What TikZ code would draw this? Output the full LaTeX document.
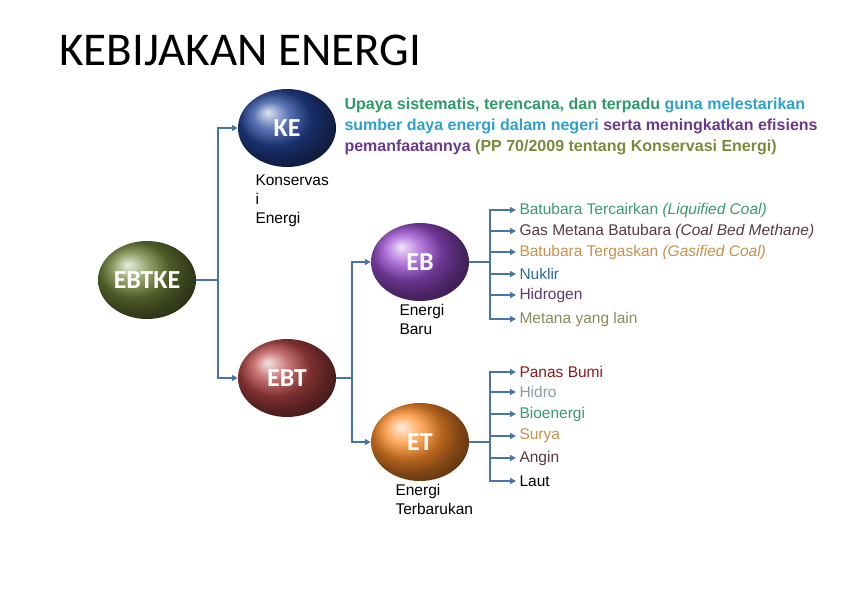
\documentclass[tikz,border=0pt]{standalone}
\usepackage{fontspec}
\setmainfont{Liberation Sans}
\newfontfamily\titlefont{Carlito}
\usetikzlibrary{shapes.geometric,arrows.meta}
\definecolor{linkblue}{HTML}{4A74A4}
\definecolor{txgreen}{HTML}{2E9A66}
\definecolor{txcyan}{HTML}{2EA0CC}
\definecolor{txpurple}{HTML}{6A3A8A}
\definecolor{txolive}{HTML}{7A8A3A}
\definecolor{itgreen}{HTML}{3A9A6A}
\definecolor{itbrown}{HTML}{5A3A3A}
\definecolor{ittan}{HTML}{C8904A}
\definecolor{itblue}{HTML}{2A6A9A}
\definecolor{itpurple}{HTML}{5A3A6A}
\definecolor{itolive}{HTML}{8A8A5A}
\definecolor{itred}{HTML}{8A1A1A}
\definecolor{itgray}{HTML}{8A9AAA}
\definecolor{ballolive}{HTML}{6E8238}
\definecolor{ballnavy}{HTML}{24459A}
\definecolor{ballred}{HTML}{B44444}
\definecolor{ballviolet}{HTML}{9A4CD0}
\definecolor{ballorange}{HTML}{FF8C28}
\tikzset{
  ball/.style={ellipse, minimum width=98pt, minimum height=78pt, inner sep=0pt,
    text=white, font=\titlefont\bfseries\fontsize{26}{28}\selectfont,
    shading=ball, ball color=#1},
  link/.style={draw=linkblue, line width=1.4pt, -{Triangle[length=6pt,width=6pt]}},
  item/.style={anchor=west, font=\fontsize{15.5}{18}\selectfont},
  sub/.style={anchor=north west, align=left, font=\fontsize{15.5}{19}\selectfont}
}
\begin{document}
\begin{tikzpicture}[x=1pt,y=-1pt]
\useasboundingbox (0,0) rectangle (841,595);

% Judul
\node[anchor=west, font=\titlefont\fontsize{47}{50}\selectfont] (judul) at (56,50) {KEBIJAKAN ENERGI};

% Bola
\node[ball=ballolive] (ebtke) at (147,280) {EBTKE};
\node[ball=ballnavy] (ke) at (287,128) {KE};
\node[ball=ballred] (ebt) at (287,378) {EBT};
\node[ball=ballviolet] (eb) at (420,262) {EB};
\node[ball=ballorange] (et) at (420,442) {ET};

% Keterangan
\node[sub] (lke) at (252,171) {Konservas\\i\\Energi};
\node[sub] (leb) at (396,301) {Energi\\Baru};
\node[sub] (let) at (392,481) {Energi\\Terbarukan};
\node[anchor=north west, align=left, font=\bfseries\fontsize{16}{21}\selectfont] (def) at (341,94)
  {\textcolor{txgreen}{Upaya sistematis, terencana, dan terpadu} \textcolor{txcyan}{guna melestarikan}\\
   \textcolor{txcyan}{sumber daya energi dalam negeri} \textcolor{txpurple}{serta meningkatkan efisiens}\\
   \textcolor{txpurple}{pemanfaatannya} \textcolor{txolive}{(PP 70/2009 tentang Konservasi Energi)}};

% Cabang
\draw[link] (ebtke.east) -- (218,280) |- (ke.west);
\draw[link] (ebtke.east) -- (218,280) |- (ebt.west);
\draw[link] (ebt.east) -- (352,378) |- (eb.west);
\draw[link] (ebt.east) -- (352,378) |- (et.west);

% Energi Baru
\foreach \y/\c/\t [count=\i] in {
  210/itgreen/{Batubara Tercairkan \textit{(Liquified Coal)}},
  231/itbrown/{Gas Metana Batubara \textit{(Coal Bed Methane)}},
  252/ittan/{Batubara Tergaskan \textit{(Gasified Coal)}},
  274/itblue/{Nuklir},
  295/itpurple/{Hidrogen},
  319/itolive/{Metana yang lain}} {
  \node[item, text=\c] (b\i) at (516,\y) {\t};
  \draw[link] (eb.east) -- (490,262) |- (b\i.west);
}

% Energi Terbarukan
\foreach \y/\c/\t [count=\i] in {
  372/itred/{Panas Bumi},
  392/itgray/{Hidro},
  414/itgreen/{Bioenergi},
  436/ittan/{Surya},
  458/itbrown/{Angin},
  481/black/{Laut}} {
  \node[item, text=\c] (t\i) at (516,\y) {\t};
  \draw[link] (et.east) -- (490,442) |- (t\i.west);
}
\end{tikzpicture}
\end{document}
